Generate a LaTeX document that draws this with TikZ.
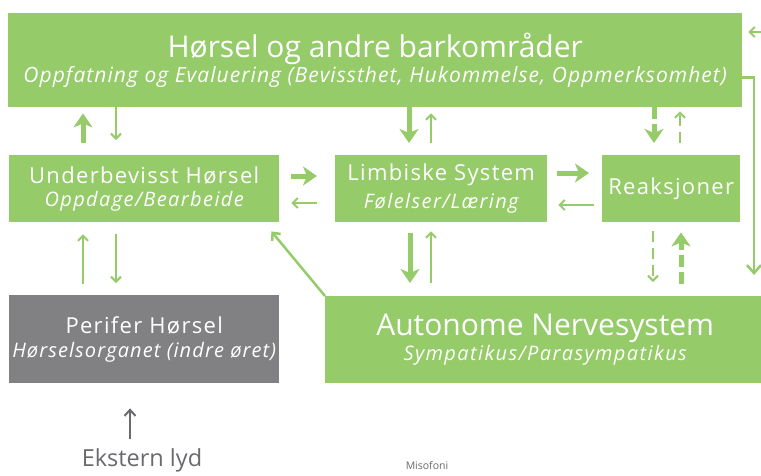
\documentclass[tikz,border=0pt]{standalone}
\usepackage{fontspec}
\setmainfont{Open Sans}
\usetikzlibrary{arrows.meta,calc}
\definecolor{leaf}{RGB}{149,203,105}
\definecolor{slate}{RGB}{129,129,132}
\definecolor{inkgray}{RGB}{105,106,110}

% size, baseline skip, letter spacing
\newcommand{\fs}[3]{\fontsize{#1}{#2}\selectfont\addfontfeature{LetterSpace=#3}}

\begin{document}
\begin{tikzpicture}[x=1pt,y=-1pt,
  box/.style={fill=leaf, text=white, anchor=north west, inner sep=0pt, align=center},
  greybox/.style={box, fill=slate},
  big/.style={line width=5pt, draw=leaf, -{Stealth[length=14pt,width=19pt,inset=4pt]}},
  small/.style={line width=2pt, draw=leaf, -{Straight Barb[length=5pt,width=10pt]}},
  bigdash/.style={big, dash pattern=on 12pt off 5pt},
  smalldash/.style={small, dash pattern=on 11pt off 6pt},
]
\useasboundingbox (0,0) rectangle (761,475);

% boxes
\node[box, minimum width=734pt, minimum height=94pt] (top) at (8,13)
  {\fs{30}{32}{0}Hørsel og andre barkområder\\[1pt]\fs{21}{28}{5}\itshape Oppfatning og Evaluering (Bevissthet, Hukommelse, Oppmerksomhet)};
\node[box, minimum width=270pt, minimum height=67pt] (ub) at (9,155)
  {\fs{22}{24}{6}Underbevisst Hørsel\\[6pt]\fs{20}{26}{7}\itshape Oppdage/Bearbeide};
\node[box, minimum width=212pt, minimum height=67pt] (lim) at (335,155)
  {\fs{22}{24}{6}Limbiske System\\[6pt]\fs{20}{26}{7}\itshape Følelser/Læring};
\node[box, minimum width=138pt, minimum height=67pt] (rea) at (602,155)
  {\fs{22}{24}{6}Reaksjoner};
\node[greybox, minimum width=270pt, minimum height=88pt] (per) at (9,295)
  {\fs{22}{24}{6}Perifer Hørsel\\[7pt]\fs{20}{26}{5.5}\itshape Hørselsorganet (indre øret)};
\node[box, minimum width=440pt, minimum height=87pt] (aut) at (325,296)
  {\fs{30}{32}{0}Autonome Nervesystem\\[2pt]\fs{20}{27}{7}\itshape Sympatikus/Parasympatikus};

\node[text=inkgray, font=\fs{23.5}{26}{0}] (ext) at (142,460) {Ekstern lyd};
\node[text=inkgray, font=\fs{10.5}{12}{0}] (miso) at (427,466) {Misofoni};

% top <-> underbevisst
\draw[big] ($(ub.north west)+(74,-12)$) -- ($(top.south west)+(75,6)$);
\draw[small] ($(top.south west)+(108,0)$) -- ($(ub.north west)+(107,-15)$);
% top <-> limbiske
\draw[big] ($(top.south west)+(401,0)$) -- ($(lim.north west)+(74,-12)$);
\draw[small] ($(lim.north west)+(96,-12)$) -- ($(top.south west)+(423,6)$);
% top <-> reaksjoner
\draw[bigdash] ($(top.south west)+(646,0)$) -- ($(rea.north west)+(52,-12)$);
\draw[smalldash] ($(rea.north west)+(78,-12)$) -- ($(top.south west)+(672,4)$);
% underbevisst <-> limbiske
\draw[big] ($(ub.north east)+(12,21)$) -- ($(lim.north west)+(-18,21)$);
\draw[small] ($(lim.north west)+(-18,48)$) -- ($(ub.north east)+(12,48)$);
% limbiske <-> reaksjoner
\draw[big] ($(lim.north east)+(10,18)$) -- ($(rea.north west)+(-13,18)$);
\draw[small] ($(rea.north west)+(-8,50)$) -- ($(lim.north east)+(11,50)$);
% limbiske <-> autonome
\draw[big] ($(lim.south west)+(75,11)$) -- ($(aut.north west)+(85,-13)$);
\draw[small] ($(aut.north west)+(106,-13)$) -- ($(lim.south west)+(96,9)$);
% reaksjoner <-> autonome
\draw[smalldash] ($(rea.south west)+(51,9)$) -- ($(aut.north west)+(328,-14)$);
\draw[bigdash] ($(aut.north west)+(356,-12)$) -- ($(rea.south west)+(79,10)$);
% underbevisst <-> perifer
\draw[small] ($(per.north west)+(74,-11)$) -- ($(ub.south west)+(74,12)$);
\draw[small] ($(ub.south west)+(107,12)$) -- ($(per.north west)+(107,-12)$);
% autonome -> underbevisst
\draw[line width=2.5pt, draw=leaf, -{Straight Barb[length=6pt,width=11pt]}]
  (aut.north west) -- ($(ub.south east)+(-8,9)$);
% top -> autonome, along the right edge
\draw[line width=2.5pt, draw=leaf, -{Straight Barb[length=8pt,width=14pt]}]
  ($(top.south east)+(0,-30)$) -| ($(aut.north west)+(429,-21)$);
\coordinate (feed) at (761,32);
\draw[line width=2pt, draw=leaf, -{Straight Barb[length=5pt,width=10pt]}]
  (feed) -- ($(top.north east)+(6,19)$);
% outside sound -> perifer
\draw[line width=2pt, draw=inkgray, -{Straight Barb[length=6pt,width=11pt]}]
  ($(ext.north)+(-12,-6)$) -- ($(per.south west)+(121,25)$);
\end{tikzpicture}
\end{document}
